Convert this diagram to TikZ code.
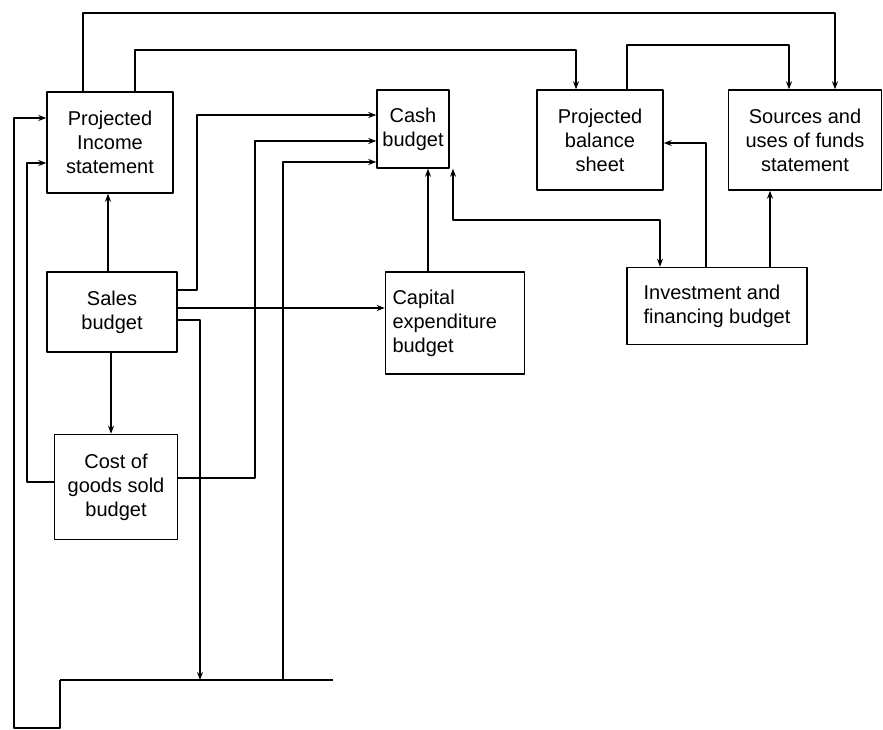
\documentclass[tikz,border=0pt]{standalone}
\usepackage{fontspec}
\setsansfont{Liberation Sans}
\usepackage{tikz}
\usetikzlibrary{arrows.meta}

\tikzset{
  box/.style={draw, line width=1.5pt, inner sep=3pt, align=center},
  arr/.style={line width=1.4pt, -{Stealth[length=8pt, width=6pt]}},
  arrboth/.style={line width=1.4pt, {Stealth[length=8pt, width=6pt]}-{Stealth[length=8pt, width=6pt]}},
  wire/.style={line width=1.4pt}
}

\begin{document}
\begin{tikzpicture}[x=1pt, y=-1pt, font=\fontsize{20}{24}\selectfont\sffamily, line join=round]

    % Page frame (883 x 730 px)
    \useasboundingbox (0,0) rectangle (883,730);

    % Budget boxes, placed at their centres
    \node[box, minimum width=126pt, minimum height=101pt] (pis) at (110,142.5) {Projected\\Income\\statement};
    \node[box, minimum width=72pt,  minimum height=78pt, inner sep=1pt]  (cash) at (413,129) {Cash\\budget};
    \node[box, minimum width=126pt, minimum height=100pt] (pbs) at (600,140) {Projected\\balance\\sheet};
    \node[box, minimum width=153pt, minimum height=100pt] (sources) at (805,140) {Sources and\\uses of funds\\statement};
    \node[box, minimum width=130pt, minimum height=80pt]  (sales) at (112,312) {Sales\\budget};
    \node[box, minimum width=139pt, minimum height=102pt, align=left, text width=125pt] (capex) at (455,323) {Capital\\expenditure\\budget};
    \node[box, minimum width=180pt, minimum height=77pt, align=left]  (invest) at (717,306) {Investment and\\financing budget};
    \node[box, minimum width=123pt, minimum height=105pt] (cogs) at (116,487) {Cost of\\goods sold\\budget};

    % Bottom collecting line
    \coordinate (busR) at (333,680);
    \coordinate (busL) at (60,680);

    % Lines over the top
    \draw[arr] (pis.north -| 83,0) -- (83,13) -| (sources.north -| 835,0);
    \draw[arr] (pis.north -| 135,0) -- (135,50) -| (pbs.north -| 576,0);
    \draw[arr] (pbs.north -| 627,0) -- (627,45) -| (sources.north -| 789,0);

    % Inputs to the cash budget
    \draw[arr] (sales.east |- 0,290) -| (197,115) -- (cash.west |- 0,115);
    \draw[arr] (cogs.east |- 0,478) -| (255,141) -- (cash.west |- 0,141);
    \draw[arr] (busR -| 283,0) -- (283,162) -- (cash.west |- 0,162);
    \draw[arr] (capex.north -| 428,0) -- (cash.south -| 428,0);
    \draw[arrboth] (cash.south -| 453,0) -- (453,220) -| (invest.north -| 660,0);

    % Sales budget outputs
    \draw[arr] (sales.north -| 108,0) -- (pis.south -| 108,0);
    \draw[arr] (sales.south -| 111,0) -- (cogs.north -| 111,0);
    \draw[arr] (sales.east |- 0,308) -- (capex.west |- 0,308);
    \draw[arr] (sales.east |- 0,320) -| (busR -| 200,0);

    % Feedback to the income statement
    \draw[wire] (busR) -- (busL);
    \draw[arr] (busL) -- (60,728) -| (14,118) -- (pis.west |- 0,118);
    \draw[arr] (cogs.west |- 0,482) -| (27,163) -- (pis.west |- 0,163);

    % Investment and financing budget outputs
    \draw[arr] (invest.north -| 706,0) |- (pbs.east |- 0,143);
    \draw[arr] (invest.north -| 770,0) -- (sources.south -| 770,0);

\end{tikzpicture}
\end{document}
